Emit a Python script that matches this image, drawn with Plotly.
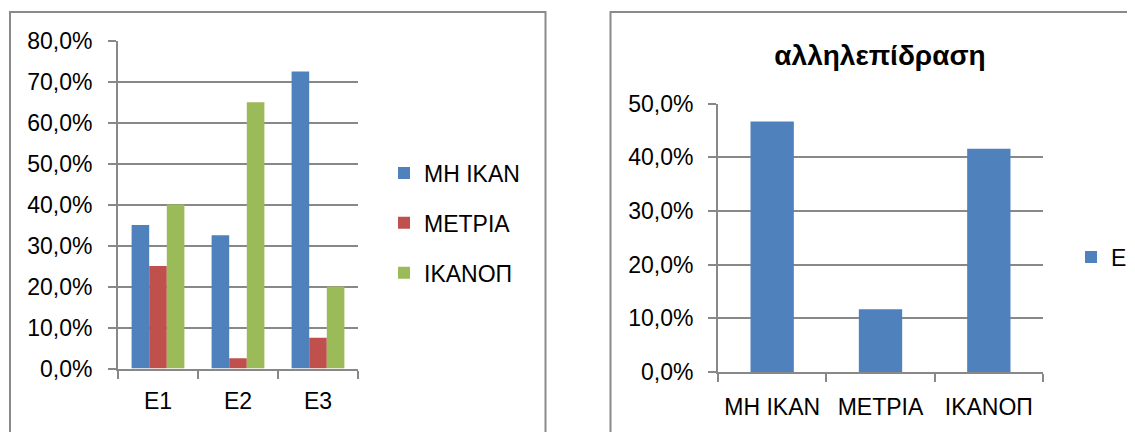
import plotly.graph_objects as go

# ---- data ----
left_categories = ["E1", "E2", "E3"]
mh_ikan = [0.35, 0.325, 0.725]
metria = [0.25, 0.025, 0.075]
ikanop = [0.40, 0.65, 0.20]
left_series_names = ["ΜΗ ΙΚΑΝ", "ΜΕΤΡΙΑ", "ΙΚΑΝΟΠ"]

right_categories = ["ΜΗ ΙΚΑΝ", "ΜΕΤΡΙΑ", "ΙΚΑΝΟΠ"]
right_values = [0.467, 0.117, 0.416]
right_series_name = "Ε"
right_title = "αλληλεπίδραση"

colors = ["#4F81BD", "#C0504D", "#9BBB59"]

W, H = 1135, 432
OFF = 8  # default page body margin
FONT = "Liberation Sans"
FS = 23
GRID = "#888888"


def px(x):
    return (x - OFF) / W


def py(y):
    return 1 - (y - OFF) / H


fig = go.Figure()

for i, (name, vals) in enumerate(zip(left_series_names, [mh_ikan, metria, ikanop])):
    fig.add_trace(go.Bar(
        x=left_categories, y=vals, name=name,
        marker=dict(color=colors[i], line=dict(width=0)),
        xaxis="x", yaxis="y", legend="legend", legendgroup=name,
    ))

fig.add_trace(go.Bar(
    x=right_categories, y=right_values, name=right_series_name,
    marker=dict(color=colors[0], line=dict(width=0)),
    xaxis="x2", yaxis="y2", legend="legend2", width=0.4,
))

axis_common = dict(
    showline=True, linecolor=GRID, linewidth=2,
    ticks="outside", ticklen=8, tickwidth=2, tickcolor=GRID,
    tickfont=dict(family=FONT, size=FS, color="#000000"),
    automargin=False,
)

fig.update_layout(
    template="none",
    width=W, height=H,
    autosize=False,
    margin=dict(l=0, r=0, t=0, b=0, pad=0),
    paper_bgcolor="white", plot_bgcolor="white",
    separators=",.",
    barmode="group", bargap=0.34, bargroupgap=0,
    font=dict(family=FONT, size=FS, color="#000000"),
    xaxis=dict(domain=[px(118), px(358)], anchor="y", tickson="boundaries",
               showgrid=False, ticklabelstandoff=11, **axis_common),
    yaxis=dict(domain=[py(368.5), py(40.7)], anchor="x", range=[0, 0.8],
               dtick=0.1, tickformat=".1%", showgrid=True, gridcolor=GRID,
               gridwidth=2, zeroline=False, ticklabelstandoff=11, **axis_common),
    xaxis2=dict(domain=[px(718), px(1043)], anchor="y2", tickson="boundaries",
                showgrid=False, ticklabelstandoff=13, **axis_common),
    yaxis2=dict(domain=[py(372), py(103.7)], anchor="x2", range=[0, 0.5],
                dtick=0.1, tickformat=".1%", showgrid=True, gridcolor=GRID,
                gridwidth=2, zeroline=False, ticklabelstandoff=10, **axis_common),
    title=dict(text="<b>" + right_title + "</b>", x=px(880), y=py(55),
               xanchor="center", yanchor="middle", xref="paper", yref="paper",
               automargin=False,
               font=dict(family=FONT, size=28, color="#000000")),
    legend=dict(x=px(384), y=py(223), xanchor="left", yanchor="middle",
                traceorder="grouped", tracegroupgap=17,
                font=dict(family=FONT, size=FS, color="#000000"),
                bgcolor="rgba(0,0,0,0)", borderwidth=0),
    legend2=dict(x=px(1071), y=py(257), xanchor="left", yanchor="middle",
                 font=dict(family=FONT, size=FS, color="#000000"),
                 bgcolor="rgba(0,0,0,0)", borderwidth=0),
    shapes=[
        dict(type="rect", xref="paper", yref="paper",
             x0=px(10), x1=px(545.5), y0=-0.2, y1=py(12),
             line=dict(color="#8a8a8a", width=2), fillcolor="rgba(0,0,0,0)"),
        dict(type="rect", xref="paper", yref="paper",
             x0=px(610.5), x1=1.2, y0=-0.2, y1=py(12),
             line=dict(color="#8a8a8a", width=2), fillcolor="rgba(0,0,0,0)"),
    ],
)

fig.write_html("out.html")
